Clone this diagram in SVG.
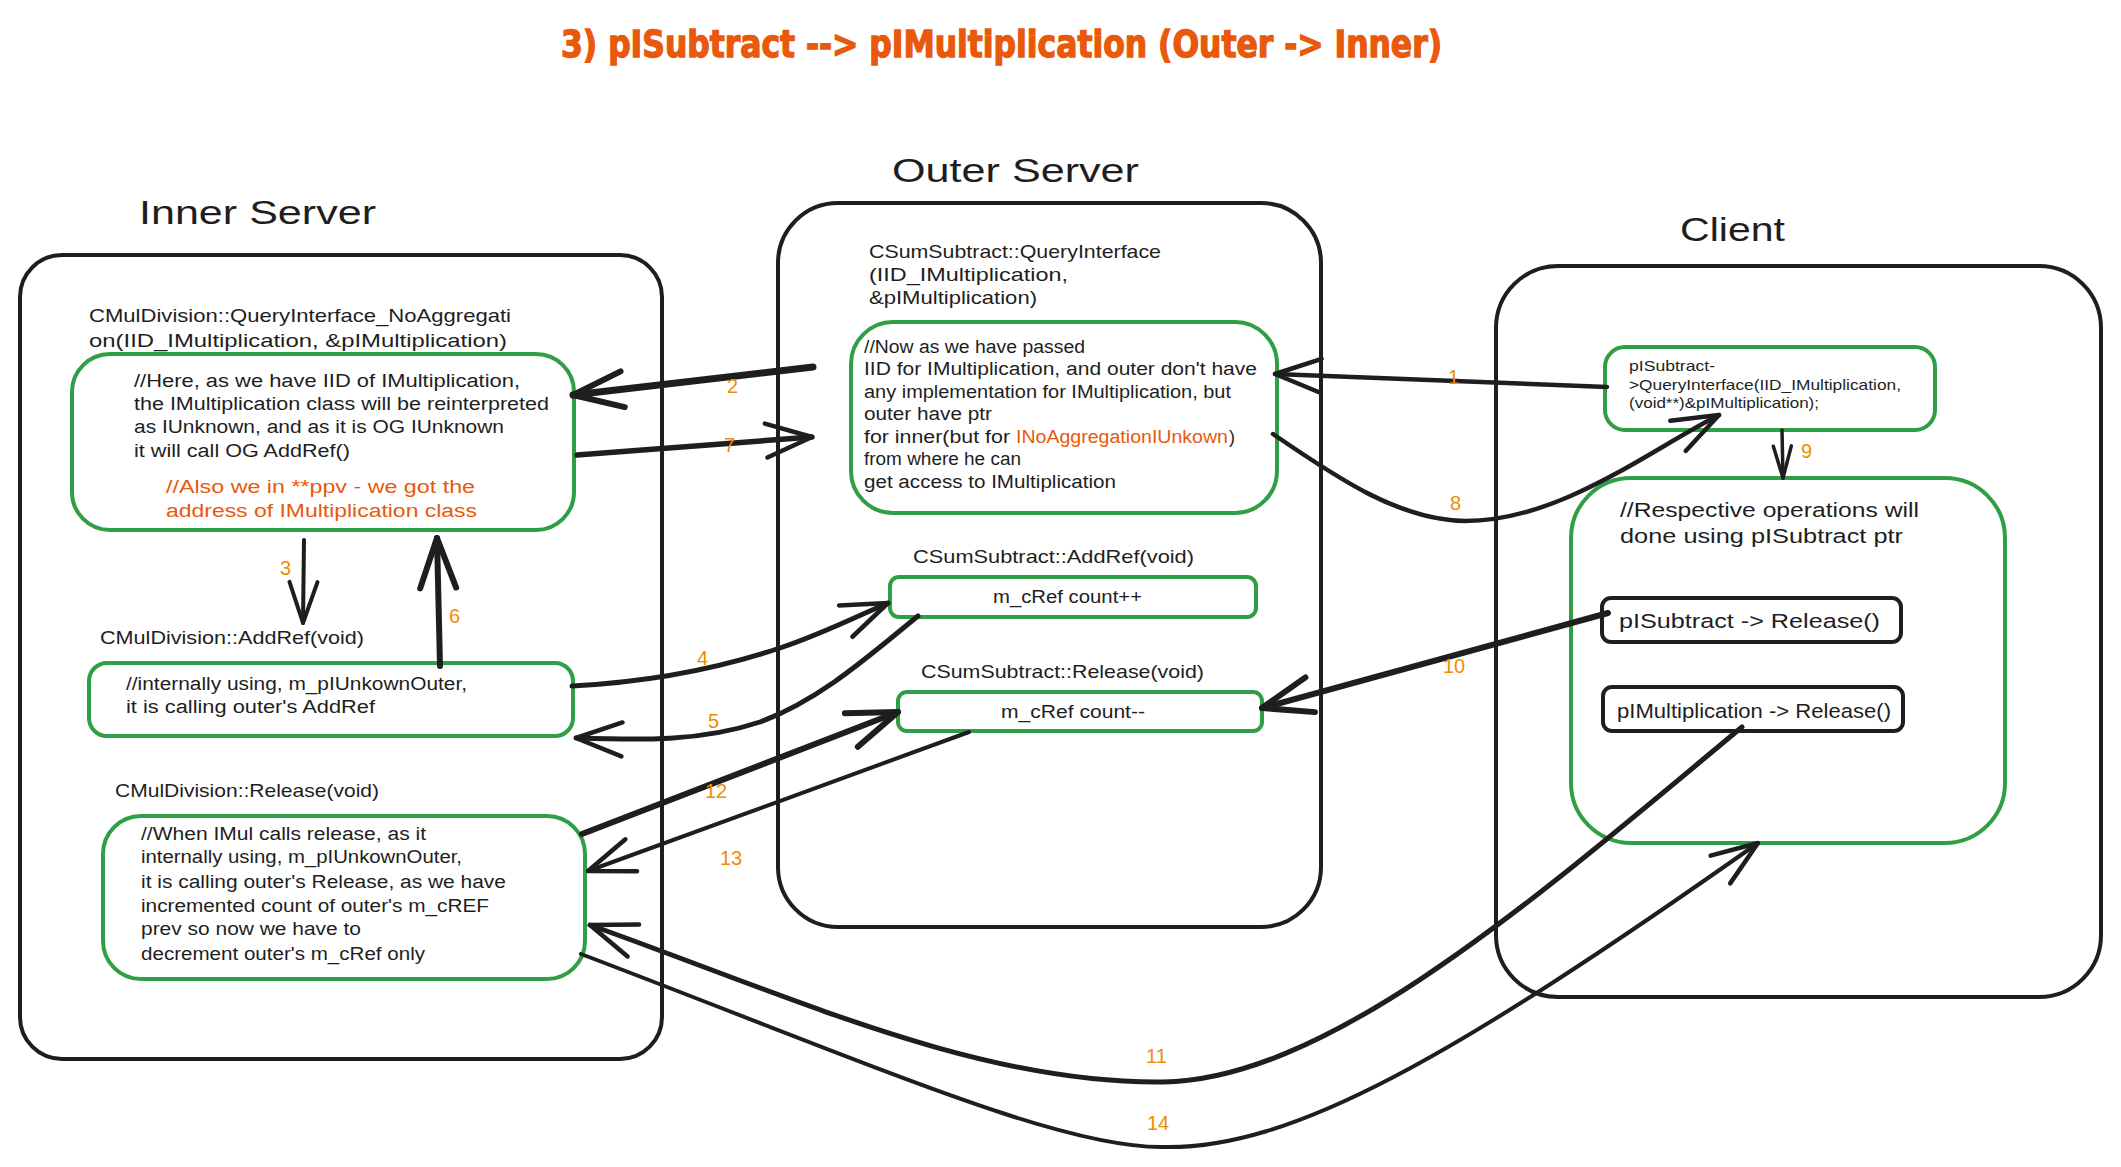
<svg xmlns="http://www.w3.org/2000/svg" width="2121" height="1167" viewBox="0 0 2121 1167">
<style>
.frame{fill:none;stroke:#1e1e1e;stroke-width:4;stroke-linejoin:round}
.gbox{fill:none;stroke:#2f9e44;stroke-width:4}
.kbox{fill:none;stroke:#1e1e1e;stroke-width:4}
.t{font-family:"Liberation Sans",Arial,sans-serif;fill:#1e1e1e}
.lbl{font-size:19px}
.body{font-size:18px}
.sm{font-size:14.5px}
.big{font-size:20.5px}
.org{fill:#e8590c}
.num{font-family:"Liberation Sans",Arial,sans-serif;font-size:20px;fill:#f08c00}
.h{font-size:33px}
.title{font-family:"DejaVu Sans Condensed","DejaVu Sans",sans-serif;font-weight:bold;font-size:38px;fill:#e8590c;stroke:#e8590c;stroke-width:1.3}
.c{fill:none;stroke:#1e1e1e;stroke-linecap:round;stroke-linejoin:round}
.ah{fill:none;stroke:#1e1e1e;stroke-linecap:round;stroke-linejoin:round}
</style>
<defs>
<marker id="ahA" markerUnits="userSpaceOnUse" orient="auto" overflow="visible" markerWidth="1" markerHeight="1"><path class="ah" stroke-width="6" d="M-50,-18 L0,0 L-50,18"/></marker>
<marker id="ahB" markerUnits="userSpaceOnUse" orient="auto" overflow="visible" markerWidth="1" markerHeight="1"><path class="ah" stroke-width="4.5" d="M-46,-17 L0,0 L-46,17"/></marker>
<marker id="ahC" markerUnits="userSpaceOnUse" orient="auto" overflow="visible" markerWidth="1" markerHeight="1"><path class="ah" stroke-width="4" d="M-41,-14 L0,0 L-41,14"/></marker>
<marker id="ahD" markerUnits="userSpaceOnUse" orient="auto" overflow="visible" markerWidth="1" markerHeight="1"><path class="ah" stroke-width="3.5" d="M-32,-9 L0,0 L-32,9"/></marker>
</defs>
<rect x="0" y="0" width="2121" height="1167" fill="#ffffff"/>

<text class="title" x="561" y="57" textLength="881" lengthAdjust="spacingAndGlyphs">3) pISubtract --&gt; pIMultiplication (Outer -&gt; Inner)</text>

<g id="inner-server">
<text class="t h" x="139" y="224" textLength="237" lengthAdjust="spacingAndGlyphs">Inner Server</text>
<rect class="frame" x="20" y="255" width="642" height="804" rx="42"/>
</g>
<g id="outer-server">
<text class="t h" x="892" y="182" textLength="247" lengthAdjust="spacingAndGlyphs">Outer Server</text>
<rect class="frame" x="778" y="203" width="543" height="724" rx="60" stroke-width="3.5"/>
</g>
<g id="client">
<text class="t h" x="1680" y="241" textLength="105" lengthAdjust="spacingAndGlyphs">Client</text>
<rect class="frame" x="1496" y="266" width="605" height="731" rx="62" stroke-width="3.5"/>
</g>

<g id="inner-qi">
<text class="t lbl" x="89" y="322" textLength="422" lengthAdjust="spacingAndGlyphs">CMulDivision::QueryInterface_NoAggregati</text>
<text class="t lbl" x="89" y="347" textLength="418" lengthAdjust="spacingAndGlyphs">on(IID_IMultiplication, &amp;pIMultiplication)</text>
<rect class="gbox" x="72" y="354" width="502" height="176" rx="38"/>
<text class="t body" x="134" y="387" textLength="386" lengthAdjust="spacingAndGlyphs">//Here, as we have IID of IMultiplication,</text>
<text class="t body" x="134" y="410" textLength="415" lengthAdjust="spacingAndGlyphs">the IMultiplication class will be reinterpreted</text>
<text class="t body" x="134" y="433" textLength="370" lengthAdjust="spacingAndGlyphs">as IUnknown, and as it is OG IUnknown</text>
<text class="t body" x="134" y="457" textLength="216" lengthAdjust="spacingAndGlyphs">it will call OG AddRef()</text>
<text class="t body org" x="166" y="493" textLength="309" lengthAdjust="spacingAndGlyphs">//Also we in **ppv - we got the</text>
<text class="t body org" x="166" y="517" textLength="311" lengthAdjust="spacingAndGlyphs">address of IMultiplication class</text>
</g>

<g id="inner-addref">
<text class="t lbl" x="100" y="644" textLength="264" lengthAdjust="spacingAndGlyphs">CMulDivision::AddRef(void)</text>
<rect class="gbox" x="89" y="663" width="484" height="73" rx="18"/>
<text class="t body" x="126" y="690" textLength="341" lengthAdjust="spacingAndGlyphs">//internally using, m_pIUnkownOuter,</text>
<text class="t body" x="126" y="713" textLength="249" lengthAdjust="spacingAndGlyphs">it is calling outer's AddRef</text>
</g>

<g id="inner-release">
<text class="t lbl" x="115" y="797" textLength="264" lengthAdjust="spacingAndGlyphs">CMulDivision::Release(void)</text>
<rect class="gbox" x="103" y="816" width="482" height="163" rx="38"/>
<text class="t body" x="141" y="840" textLength="285" lengthAdjust="spacingAndGlyphs">//When IMul calls release, as it</text>
<text class="t body" x="141" y="863" textLength="321" lengthAdjust="spacingAndGlyphs">internally using, m_pIUnkownOuter,</text>
<text class="t body" x="141" y="888" textLength="365" lengthAdjust="spacingAndGlyphs">it is calling outer's Release, as we have</text>
<text class="t body" x="141" y="912" textLength="348" lengthAdjust="spacingAndGlyphs">incremented count of outer's m_cREF</text>
<text class="t body" x="141" y="935" textLength="220" lengthAdjust="spacingAndGlyphs">prev so now we have to</text>
<text class="t body" x="141" y="960" textLength="284" lengthAdjust="spacingAndGlyphs">decrement outer's m_cRef only</text>
</g>

<g id="outer-qi">
<text class="t lbl" x="869" y="258" textLength="292" lengthAdjust="spacingAndGlyphs">CSumSubtract::QueryInterface</text>
<text class="t lbl" x="869" y="281" textLength="199" lengthAdjust="spacingAndGlyphs">(IID_IMultiplication,</text>
<text class="t lbl" x="869" y="304" textLength="168" lengthAdjust="spacingAndGlyphs">&amp;pIMultiplication)</text>
<rect class="gbox" x="851" y="322" width="426" height="191" rx="42"/>
<text class="t body" x="864" y="353" textLength="221" lengthAdjust="spacingAndGlyphs">//Now as we have passed</text>
<text class="t body" x="864" y="375" textLength="393" lengthAdjust="spacingAndGlyphs">IID for IMultiplication, and outer don't have</text>
<text class="t body" x="864" y="398" textLength="367" lengthAdjust="spacingAndGlyphs">any implementation for IMultiplication, but</text>
<text class="t body" x="864" y="420" textLength="128" lengthAdjust="spacingAndGlyphs">outer have ptr</text>
<text class="t body" x="864" y="443" textLength="146" lengthAdjust="spacingAndGlyphs">for inner(but for</text>
<text class="t body org" x="1016" y="443" textLength="212" lengthAdjust="spacingAndGlyphs">INoAggregationIUnkown</text>
<text class="t body" x="1229" y="443">)</text>
<text class="t body" x="864" y="465" textLength="157" lengthAdjust="spacingAndGlyphs">from where he can</text>
<text class="t body" x="864" y="488" textLength="252" lengthAdjust="spacingAndGlyphs">get access to IMultiplication</text>
</g>

<g id="outer-addref">
<text class="t lbl" x="913" y="563" textLength="281" lengthAdjust="spacingAndGlyphs">CSumSubtract::AddRef(void)</text>
<rect class="gbox" x="890" y="577" width="366" height="40" rx="9"/>
<text class="t body" x="993" y="603" textLength="149" lengthAdjust="spacingAndGlyphs">m_cRef count++</text>
</g>

<g id="outer-release">
<text class="t lbl" x="921" y="678" textLength="283" lengthAdjust="spacingAndGlyphs">CSumSubtract::Release(void)</text>
<rect class="gbox" x="898" y="692" width="364" height="39" rx="9"/>
<text class="t body" x="1001" y="718" textLength="144" lengthAdjust="spacingAndGlyphs">m_cRef count--</text>
</g>

<g id="client-qi">
<rect class="gbox" x="1605" y="347" width="330" height="83" rx="20"/>
<text class="t sm" x="1629" y="371" textLength="86" lengthAdjust="spacingAndGlyphs">pISubtract-</text>
<text class="t sm" x="1629" y="390" textLength="272" lengthAdjust="spacingAndGlyphs">&gt;QueryInterface(IID_IMultiplication,</text>
<text class="t sm" x="1629" y="408" textLength="190" lengthAdjust="spacingAndGlyphs">(void**)&amp;pIMultiplication);</text>
</g>

<g id="client-ops">
<rect class="gbox" x="1571" y="478" width="434" height="365" rx="60" stroke-width="3.5"/>
<text class="t big" x="1620" y="517" textLength="299" lengthAdjust="spacingAndGlyphs">//Respective operations will</text>
<text class="t big" x="1620" y="543" textLength="283" lengthAdjust="spacingAndGlyphs">done using pISubtract ptr</text>
</g>

<g id="client-release-sub">
<rect class="kbox" x="1602" y="598" width="299" height="44" rx="9"/>
<text class="t big" x="1619" y="628" textLength="261" lengthAdjust="spacingAndGlyphs">pISubtract -&gt; Release()</text>
</g>

<g id="client-release-mul">
<rect class="kbox" x="1603" y="687" width="300" height="44" rx="9"/>
<text class="t big" x="1617" y="718" textLength="274" lengthAdjust="spacingAndGlyphs">pIMultiplication -&gt; Release()</text>
</g>

<g id="connectors">
<g id="c1"><path class="c" stroke-width="4.5" d="M1607,387 L1275,374" marker-end="url(#ahB)"/><text class="num" x="1448" y="384">1</text></g>
<g id="c2"><path class="c" stroke-width="7" d="M813,367 L573,395" marker-end="url(#ahA)"/><text class="num" x="727" y="393">2</text></g>
<g id="c3"><path class="c" stroke-width="4" d="M304,540 L303,623" marker-end="url(#ahC)"/><text class="num" x="280" y="575">3</text></g>
<g id="c4"><path class="c" stroke-width="5" d="M572,686 C650,682 720,668 780,648 C820,635 860,615 888,603" marker-end="url(#ahB)"/><text class="num" x="697" y="665">4</text></g>
<g id="c5"><path class="c" stroke-width="5" d="M918,616 C870,655 820,700 760,722 C700,742 640,740 576,738" marker-end="url(#ahB)"/><text class="num" x="708" y="728">5</text></g>
<g id="c6"><path class="c" stroke-width="6" d="M440,666 L437,538" marker-end="url(#ahA)"/><text class="num" x="449" y="623">6</text></g>
<g id="c7"><path class="c" stroke-width="5.5" d="M577,455 L812,437" marker-end="url(#ahB)"/><text class="num" x="724" y="452">7</text></g>
<g id="c8"><path class="c" stroke-width="4.5" d="M1273,434 C1340,480 1400,520 1465,521 C1560,521 1650,450 1719,415" marker-end="url(#ahB)"/><text class="num" x="1450" y="510">8</text></g>
<g id="c9"><path class="c" stroke-width="3.5" d="M1782,430 L1783,478" marker-end="url(#ahD)"/><text class="num" x="1801" y="458">9</text></g>
<g id="c10"><path class="c" stroke-width="6" d="M1608,613 L1262,708" marker-end="url(#ahA)"/><text class="num" x="1443" y="673">10</text></g>
<g id="c11"><path class="c" stroke-width="5" d="M1742,727 C1542,893 1330,1080 1163,1082 C980,1084 800,1000 590,925" marker-end="url(#ahB)"/><text class="num" x="1146" y="1063">11</text></g>
<g id="c12"><path class="c" stroke-width="6" d="M582,834 L898,712" marker-end="url(#ahA)"/><text class="num" x="705" y="798">12</text></g>
<g id="c13"><path class="c" stroke-width="4" d="M969,732 L588,871" marker-end="url(#ahB)"/><text class="num" x="720" y="865">13</text></g>
<g id="c14"><path class="c" stroke-width="4" d="M581,954 C881,1068 1060,1148 1163,1147 C1290,1150 1450,1060 1758,843" marker-end="url(#ahB)"/><text class="num" x="1147" y="1130">14</text></g>
</g>
</svg>
